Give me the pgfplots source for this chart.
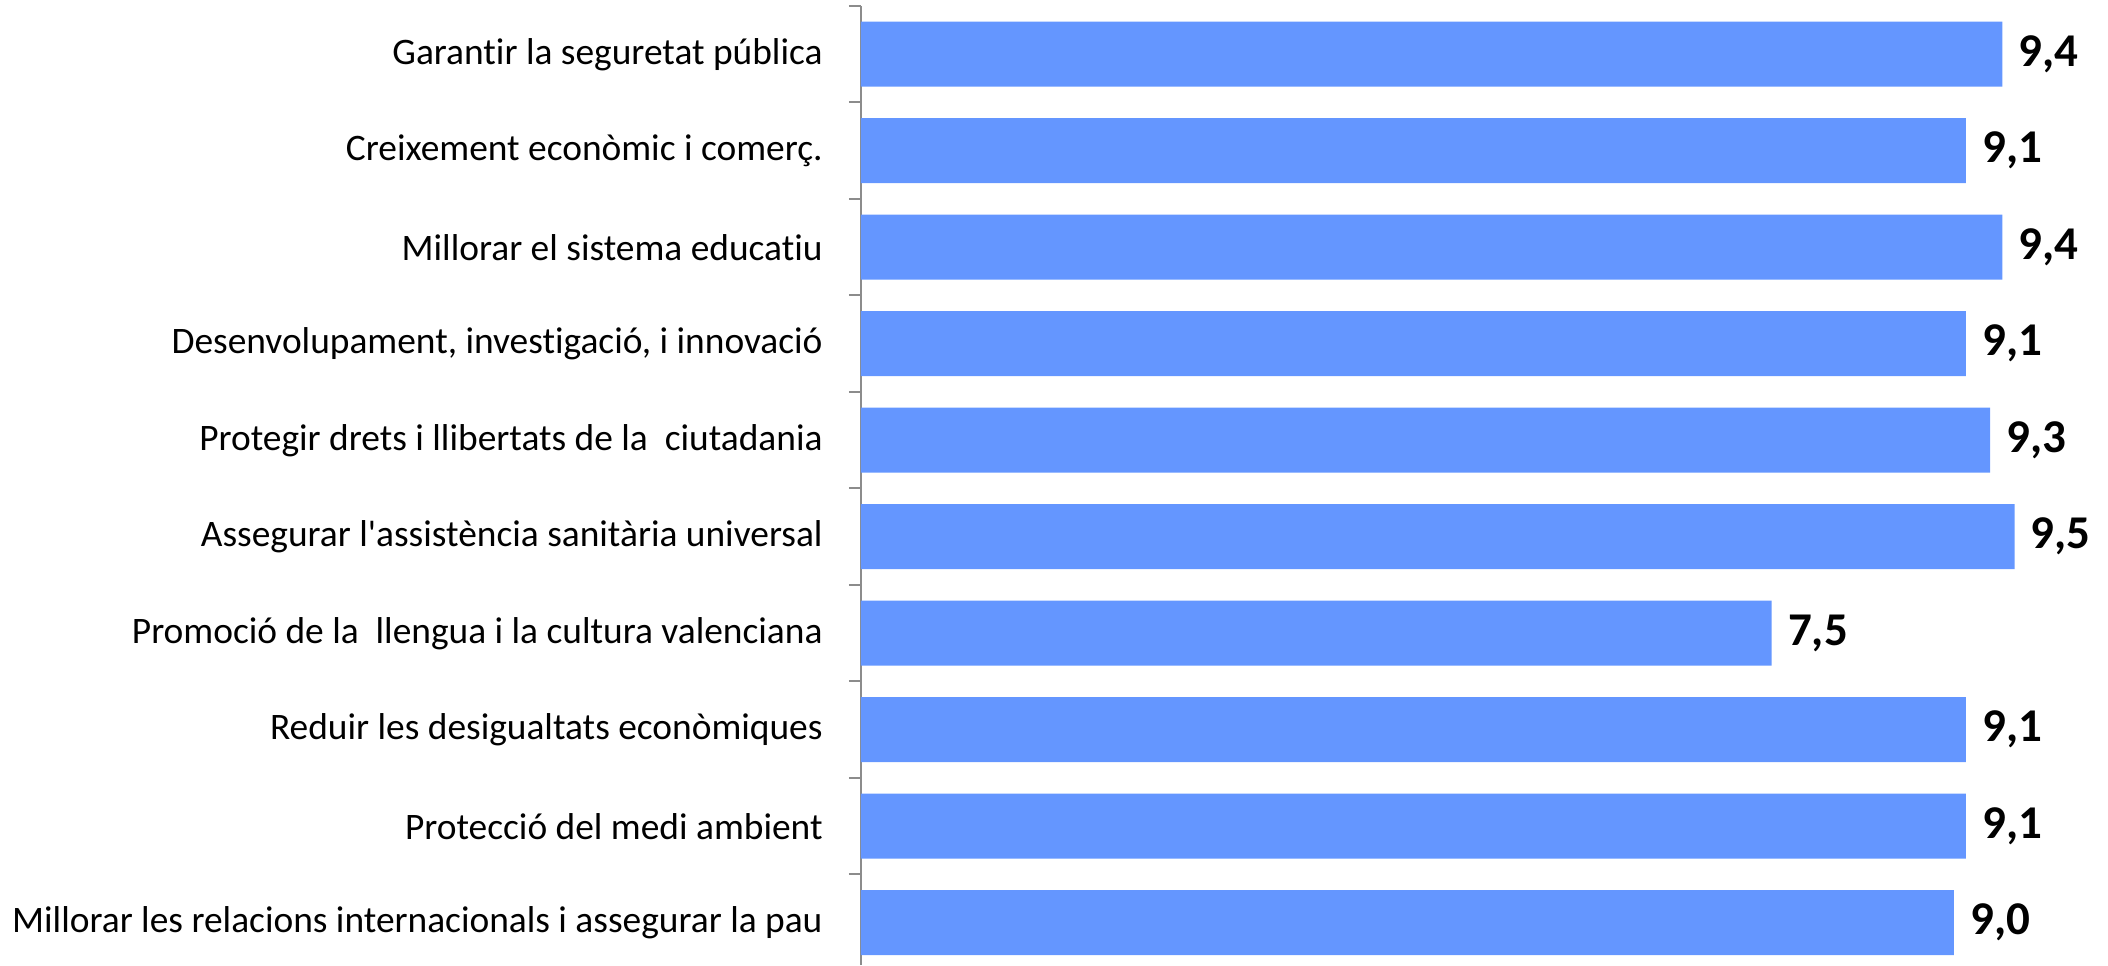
\documentclass[border=0pt]{standalone}
\usepackage{pgfplots}
\pgfplotsset{compat=1.18}
\usepackage{fontspec}
\defaultfontfeatures{}
\defaultfontfeatures[\rmfamily]{}
\setmainfont{Carlito}[Ligatures={ResetAll,NoCommon}]
\definecolor{barblue}{RGB}{100,150,255}
\definecolor{axgray}{RGB}{140,140,140}
\begin{document}
\begin{tikzpicture}
\begin{axis}[
  name=ax,
  scale only axis,
  width=623.5pt, height=479.5pt,
  xbar, bar width=32.5pt, bar shift=0pt,
  xmin=0, xmax=10.27,
  ymin=-0.438, ymax=9.5,
  axis x line=none,
  axis y line*=left,
  axis line style={axgray, line width=1pt},
  ytick={0,...,9},
  yticklabels={
    Millorar les relacions internacionals i assegurar la pau,
    Protecció del medi ambient,
    Reduir les desigualtats econòmiques,
    Promoció de la\ \ llengua i la cultura valenciana,
    Assegurar l'assistència sanitària universal,
    Protegir drets i llibertats de la\ \ ciutadania,
    {Desenvolupament, investigació, i innovació},
    Millorar el sistema educatiu,
    Creixement econòmic i comerç.,
    Garantir la seguretat pública},
  major tick length=0pt,
  minor ytick={-0.5,0.5,...,9.5},
  minor tick length=6pt,
  tick align=outside,
  minor tick style={axgray, line width=1pt},
  yticklabel style={font=\fontsize{18.7}{22}\selectfont, inner sep=0pt, xshift=-19pt, anchor=east},
  point meta=explicit symbolic,
  nodes near coords,
  nodes near coords style={font=\fontsize{23.5}{26}\selectfont\bfseries, inner sep=0pt, anchor=west, xshift=8pt, black},
  clip=false,
]
\addplot[fill=barblue, draw=none] coordinates {
  (9.0,0) [9,0]
  (9.1,1) [9,1]
  (9.1,2) [9,1]
  (7.5,3) [7,5]
  (9.5,4) [9,5]
  (9.3,5) [9,3]
  (9.1,6) [9,1]
  (9.4,7) [9,4]
  (9.1,8) [9,1]
  (9.4,9) [9,4]
};
\end{axis}
\pgfresetboundingbox
\path ([xshift=-430.5pt]ax.south west) rectangle ([yshift=3pt]ax.north east);
\end{tikzpicture}
\end{document}
